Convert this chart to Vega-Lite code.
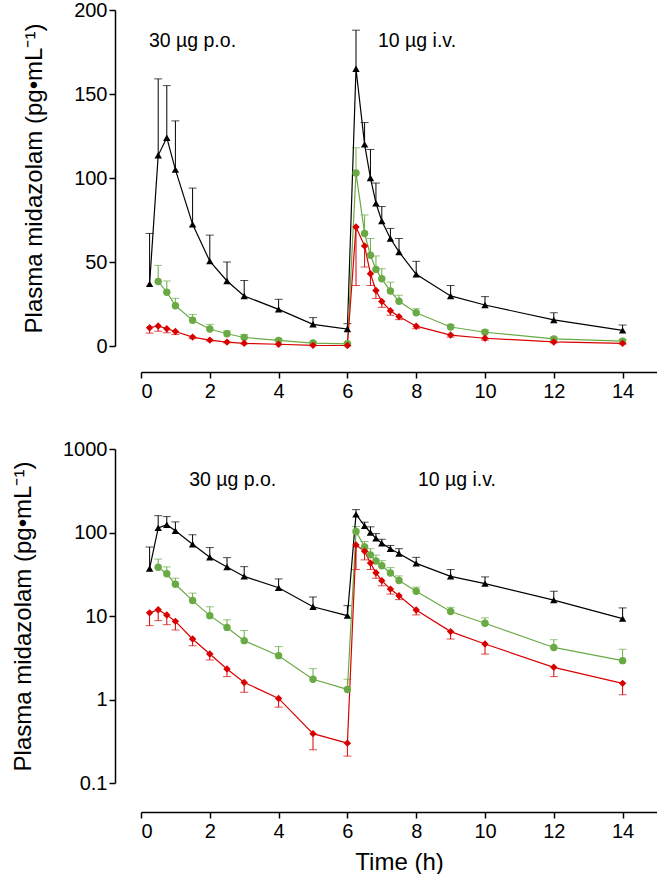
{
  "$schema": "https://vega.github.io/schema/vega-lite/v6.json",
  "padding": {"left": 11, "top": 0, "right": 0, "bottom": 0},
  "background": "white",
  "datasets": {
    "pk": [
      {"t": 0.25, "c": 37, "e": 67, "s": "A"},
      {"t": 0.5, "c": 113.5, "e": 159, "s": "A"},
      {"t": 0.75, "c": 124, "e": 155, "s": "A"},
      {"t": 1, "c": 105, "e": 134, "s": "A"},
      {"t": 1.5, "c": 72.4, "e": 94, "s": "A"},
      {"t": 2, "c": 50.5, "e": 66, "s": "A"},
      {"t": 2.5, "c": 38.7, "e": 50, "s": "A"},
      {"t": 3, "c": 29.8, "e": 39, "s": "A"},
      {"t": 4, "c": 21.8, "e": 27.8, "s": "A"},
      {"t": 5, "c": 12.9, "e": 16.9, "s": "A"},
      {"t": 6, "c": 10.1, "e": 13.3, "s": "A"},
      {"t": 6.25, "c": 165, "e": 188, "s": "A"},
      {"t": 6.5, "c": 120, "e": 133, "s": "A"},
      {"t": 6.67, "c": 100, "e": 117, "s": "A"},
      {"t": 6.83, "c": 85, "e": 97, "s": "A"},
      {"t": 7, "c": 74.4, "e": 83, "s": "A"},
      {"t": 7.25, "c": 64, "e": 70, "s": "A"},
      {"t": 7.5, "c": 56, "e": 64, "s": "A"},
      {"t": 8, "c": 42.7, "e": 50.4, "s": "A"},
      {"t": 9, "c": 29.8, "e": 36, "s": "A"},
      {"t": 10, "c": 24.4, "e": 29.4, "s": "A"},
      {"t": 12, "c": 15.5, "e": 19.8, "s": "A"},
      {"t": 14, "c": 9.3, "e": 12.5, "s": "A"},
      {"t": 0.5, "c": 38.4, "e": 48, "s": "B"},
      {"t": 0.75, "c": 32, "e": 38.7, "s": "B"},
      {"t": 1, "c": 24, "e": 28.4, "s": "B"},
      {"t": 1.5, "c": 15.3, "e": 18.8, "s": "B"},
      {"t": 2, "c": 10.1, "e": 12.9, "s": "B"},
      {"t": 2.5, "c": 7.3, "e": 9.0, "s": "B"},
      {"t": 3, "c": 5.07, "e": 6.7, "s": "B"},
      {"t": 4, "c": 3.35, "e": 4.3, "s": "B"},
      {"t": 5, "c": 1.75, "e": 2.34, "s": "B"},
      {"t": 6, "c": 1.32, "e": 1.75, "s": "B"},
      {"t": 6.25, "c": 103, "e": 118, "s": "B"},
      {"t": 6.5, "c": 67, "e": 78, "s": "B"},
      {"t": 6.67, "c": 54, "e": 64, "s": "B"},
      {"t": 6.83, "c": 45.6, "e": 53.6, "s": "B"},
      {"t": 7, "c": 40, "e": 46, "s": "B"},
      {"t": 7.25, "c": 32.7, "e": 38, "s": "B"},
      {"t": 7.5, "c": 26.6, "e": 30.2, "s": "B"},
      {"t": 8, "c": 19.8, "e": 22.2, "s": "B"},
      {"t": 9, "c": 11.3, "e": 12.7, "s": "B"},
      {"t": 10, "c": 8.2, "e": 9.5, "s": "B"},
      {"t": 12, "c": 4.2, "e": 5.2, "s": "B"},
      {"t": 14, "c": 2.92, "e": 4.0, "s": "B"},
      {"t": 0.25, "c": 10.9, "e": 7.66, "s": "C"},
      {"t": 0.5, "c": 11.9, "e": 8.8, "s": "C"},
      {"t": 0.75, "c": 10.3, "e": 7.87, "s": "C"},
      {"t": 1, "c": 8.63, "e": 6.8, "s": "C"},
      {"t": 1.5, "c": 5.3, "e": 4.4, "s": "C"},
      {"t": 2, "c": 3.5, "e": 2.97, "s": "C"},
      {"t": 2.5, "c": 2.32, "e": 1.88, "s": "C"},
      {"t": 3, "c": 1.6, "e": 1.22, "s": "C"},
      {"t": 4, "c": 1.03, "e": 0.81, "s": "C"},
      {"t": 5, "c": 0.39, "e": 0.25, "s": "C"},
      {"t": 6, "c": 0.30, "e": 0.21, "s": "C"},
      {"t": 6.25, "c": 70.8, "e": 36, "s": "C"},
      {"t": 6.5, "c": 59.5, "e": 47, "s": "C"},
      {"t": 6.67, "c": 43, "e": 36, "s": "C"},
      {"t": 6.83, "c": 33, "e": 28.3, "s": "C"},
      {"t": 7, "c": 26.5, "e": 23, "s": "C"},
      {"t": 7.25, "c": 21, "e": 18.3, "s": "C"},
      {"t": 7.5, "c": 17.5, "e": 15.7, "s": "C"},
      {"t": 8, "c": 11.8, "e": 10.3, "s": "C"},
      {"t": 9, "c": 6.5, "e": 5.3, "s": "C"},
      {"t": 10, "c": 4.62, "e": 3.5, "s": "C"},
      {"t": 12, "c": 2.43, "e": 1.88, "s": "C"},
      {"t": 14, "c": 1.56, "e": 1.14, "s": "C"}
    ],
    "notes": [
      {"panel": "lin", "t": 0.23, "y": 181.5, "label": "30 µg p.o."},
      {"panel": "lin", "t": 6.89, "y": 181.5, "label": "10 µg i.v."},
      {"panel": "log", "t": 1.4, "y": 430, "label": "30 µg p.o."},
      {"panel": "log", "t": 8.05, "y": 430, "label": "10 µg i.v."}
    ]
  },
  "vconcat": [
    {
      "width": 516,
      "height": 336,
      "layer": [
        {
          "data": {"name": "pk"},
          "mark": {"type": "rule", "strokeWidth": 1},
          "encoding": {
            "x": {"field": "t", "type": "quantitative", "title": null,
                  "scale": {"domain": [0, 15], "nice": false},
                  "axis": {"values": [0, 2, 4, 6, 8, 10, 12, 14], "offset": 26}},
            "y": {"field": "c", "type": "quantitative", "title": "Plasma midazolam (pg•mL⁻¹)",
                  "scale": {"domain": [0, 200], "nice": false},
                  "axis": {"values": [0, 50, 100, 150, 200], "offset": 26}},
            "y2": {"field": "e"},
            "color": {"field": "s", "type": "nominal", "legend": null,
                      "scale": {"domain": ["A", "B", "C"], "range": ["#000000", "#6aaa45", "#d90000"]}}
          }
        },
        {
          "data": {"name": "pk"},
          "mark": {"type": "tick", "orient": "horizontal", "size": 8, "thickness": 1},
          "encoding": {
            "x": {"field": "t", "type": "quantitative", "title": null},
            "y": {"field": "e", "type": "quantitative", "title": "Plasma midazolam (pg•mL⁻¹)"},
            "color": {"field": "s", "type": "nominal", "legend": null}
          }
        },
        {
          "data": {"name": "pk"},
          "mark": {"type": "line", "strokeWidth": 1.2},
          "encoding": {
            "x": {"field": "t", "type": "quantitative", "title": null},
            "y": {"field": "c", "type": "quantitative", "title": "Plasma midazolam (pg•mL⁻¹)"},
            "color": {"field": "s", "type": "nominal", "legend": null}
          }
        },
        {
          "data": {"name": "pk"},
          "mark": {"type": "point", "filled": true, "opacity": 1, "size": 55},
          "encoding": {
            "x": {"field": "t", "type": "quantitative", "title": null},
            "y": {"field": "c", "type": "quantitative", "title": "Plasma midazolam (pg•mL⁻¹)"},
            "color": {"field": "s", "type": "nominal", "legend": null},
            "shape": {"field": "s", "type": "nominal", "legend": null,
                      "scale": {"domain": ["A", "B", "C"], "range": ["triangle-up", "circle", "diamond"]}}
          }
        },
        {
          "data": {"name": "notes"},
          "transform": [{"filter": "datum.panel === 'lin'"}],
          "mark": {"type": "text", "align": "left", "baseline": "middle", "fontSize": 19.5, "font": "Liberation Sans", "color": "black"},
          "encoding": {
            "x": {"field": "t", "type": "quantitative", "title": null},
            "y": {"field": "y", "type": "quantitative", "title": "Plasma midazolam (pg•mL⁻¹)"},
            "text": {"field": "label"}
          }
        }
      ]
    },
    {
      "width": 516,
      "height": 334,
      "layer": [
        {
          "data": {"name": "pk"},
          "mark": {"type": "rule", "strokeWidth": 1},
          "encoding": {
            "x": {"field": "t", "type": "quantitative", "title": "Time (h)",
                  "scale": {"domain": [0, 15], "nice": false},
                  "axis": {"values": [0, 2, 4, 6, 8, 10, 12, 14], "offset": 29}},
            "y": {"field": "c", "type": "quantitative", "title": "Plasma midazolam (pg•mL⁻¹)",
                  "scale": {"type": "log", "domain": [0.1, 1000], "nice": false},
                  "axis": {"values": [0.1, 1, 10, 100, 1000], "format": "~g", "offset": 26}},
            "y2": {"field": "e"},
            "color": {"field": "s", "type": "nominal", "legend": null,
                      "scale": {"domain": ["A", "B", "C"], "range": ["#000000", "#6aaa45", "#d90000"]}}
          }
        },
        {
          "data": {"name": "pk"},
          "mark": {"type": "tick", "orient": "horizontal", "size": 8, "thickness": 1},
          "encoding": {
            "x": {"field": "t", "type": "quantitative", "title": "Time (h)"},
            "y": {"field": "e", "type": "quantitative", "title": "Plasma midazolam (pg•mL⁻¹)"},
            "color": {"field": "s", "type": "nominal", "legend": null}
          }
        },
        {
          "data": {"name": "pk"},
          "mark": {"type": "line", "strokeWidth": 1.2},
          "encoding": {
            "x": {"field": "t", "type": "quantitative", "title": "Time (h)"},
            "y": {"field": "c", "type": "quantitative", "title": "Plasma midazolam (pg•mL⁻¹)"},
            "color": {"field": "s", "type": "nominal", "legend": null}
          }
        },
        {
          "data": {"name": "pk"},
          "mark": {"type": "point", "filled": true, "opacity": 1, "size": 55},
          "encoding": {
            "x": {"field": "t", "type": "quantitative", "title": "Time (h)"},
            "y": {"field": "c", "type": "quantitative", "title": "Plasma midazolam (pg•mL⁻¹)"},
            "color": {"field": "s", "type": "nominal", "legend": null},
            "shape": {"field": "s", "type": "nominal", "legend": null,
                      "scale": {"domain": ["A", "B", "C"], "range": ["triangle-up", "circle", "diamond"]}}
          }
        },
        {
          "data": {"name": "notes"},
          "transform": [{"filter": "datum.panel === 'log'"}],
          "mark": {"type": "text", "align": "left", "baseline": "middle", "fontSize": 19.5, "font": "Liberation Sans", "color": "black"},
          "encoding": {
            "x": {"field": "t", "type": "quantitative", "title": "Time (h)"},
            "y": {"field": "y", "type": "quantitative", "title": "Plasma midazolam (pg•mL⁻¹)"},
            "text": {"field": "label"}
          }
        }
      ]
    }
  ],
  "config": {
    "view": {"stroke": null},
    "concat": {"spacing": 38},
    "font": "Liberation Sans",
    "axis": {
      "grid": false,
      "domainColor": "black",
      "domainWidth": 1.5,
      "tickColor": "black",
      "tickWidth": 1.5,
      "tickSize": 6,
      "labelFont": "Liberation Sans",
      "labelFontSize": 20,
      "labelColor": "black",
      "titleFont": "Liberation Sans",
      "titleFontSize": 24,
      "titleFontWeight": "normal",
      "titleColor": "black"
    },
    "axisY": {"labelPadding": 2, "titlePadding": 27},
    "axisX": {"labelPadding": 3, "titlePadding": 9}
  }
}
